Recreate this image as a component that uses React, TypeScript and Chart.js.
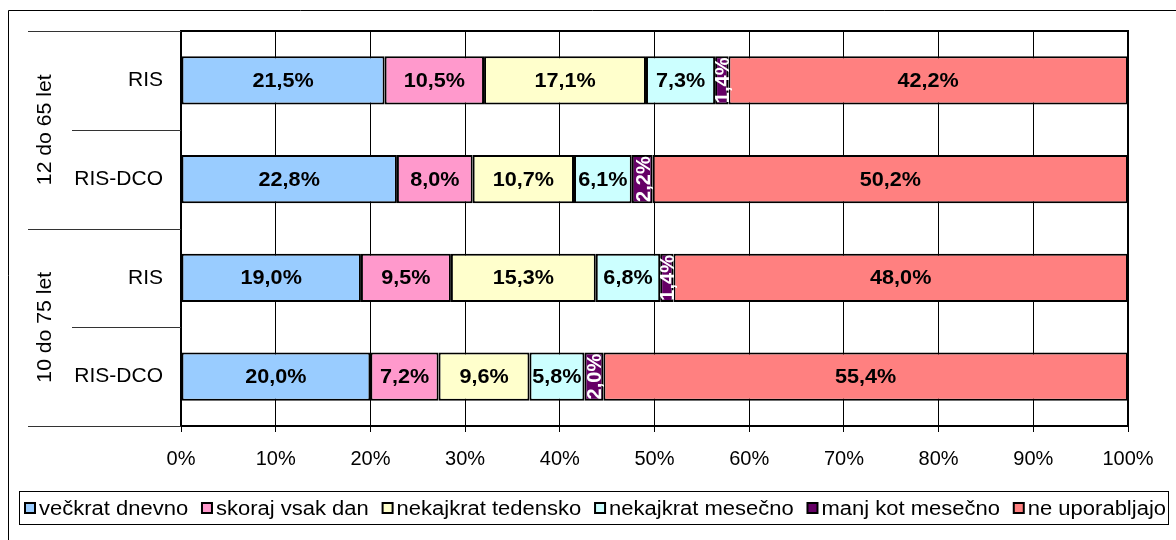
import { useEffect, useRef } from 'react';
import { Chart, registerables } from 'chart.js';

Chart.register(...registerables);

const categories = ['RIS', 'RIS-DCO', 'RIS', 'RIS-DCO'];
const groups = ['12 do 65 let', '10 do 75 let'];
const seriesNames = [
  'večkrat dnevno',
  'skoraj vsak dan',
  'nekajkrat tedensko',
  'nekajkrat mesečno',
  'manj kot mesečno',
  'ne uporabljajo',
];
const veckratDnevno = [21.5, 22.8, 19.0, 20.0];
const skorajVsakDan = [10.5, 8.0, 9.5, 7.2];
const nekajkratTedensko = [17.1, 10.7, 15.3, 9.6];
const nekajkratMesecno = [7.3, 6.1, 6.8, 5.8];
const manjKotMesecno = [1.4, 2.2, 1.4, 2.0];
const neUporabljajo = [42.2, 50.2, 48.0, 55.4];
const xTickValues = [0, 10, 20, 30, 40, 50, 60, 70, 80, 90, 100];

const seriesValues = [
  veckratDnevno,
  skorajVsakDan,
  nekajkratTedensko,
  nekajkratMesecno,
  manjKotMesecno,
  neUporabljajo,
];
const colors = ['#99CCFF', '#FF99CC', '#FFFFCC', '#CCFFFF', '#660066', '#FF8080'];
const labelColors = ['#000', '#000', '#000', '#000', '#fff', '#000'];
const rotatedLabel = [false, false, false, false, true, false];

const FONT = "'Liberation Sans', Arial, sans-serif";
const fmt = (v: number) => v.toFixed(1).replace('.', ',') + '%';

function fillStretched(ctx: any, text: string, x: number, y: number, sx: number, rot = 0) {
  ctx.save();
  ctx.translate(x, y);
  if (rot) ctx.rotate(rot);
  ctx.scale(sx, 1);
  ctx.fillText(text, 0, 0);
  ctx.restore();
}

const customPlugin = {
  id: 'custom',
  beforeDraw(chart: any) {
    const ctx = chart.ctx;
    ctx.save();
    ctx.fillStyle = '#fff';
    ctx.fillRect(0, 0, chart.width, chart.height);
    ctx.strokeStyle = '#000';
    ctx.lineWidth = 1;
    ctx.beginPath();
    ctx.moveTo(8.5, chart.height);
    ctx.lineTo(8.5, 10.5);
    ctx.lineTo(chart.width, 10.5);
    ctx.stroke();
    ctx.restore();
  },
  afterDraw(chart: any) {
    const ctx = chart.ctx;
    const area = chart.chartArea;
    const yScale = chart.scales.y;
    const n = categories.length;
    const step = (area.bottom - area.top) / n;
    ctx.save();

    // plot border
    ctx.strokeStyle = '#000';
    ctx.lineWidth = 2;
    ctx.strokeRect(area.left, area.top, area.right - area.left, area.bottom - area.top);

    // category separators
    ctx.lineWidth = 1;
    ctx.strokeStyle = '#333';
    for (let i = 0; i <= n; i++) {
      const yy = Math.round(yScale.getPixelForValue(0) - step / 2 + i * step) + 0.5;
      const startX = i % 2 === 0 ? 28 : 72;
      ctx.beginPath();
      ctx.moveTo(startX, yy);
      ctx.lineTo(area.left, yy);
      ctx.stroke();
    }

    // group labels
    ctx.fillStyle = '#000';
    ctx.font = `20px ${FONT}`;
    ctx.textAlign = 'center';
    ctx.textBaseline = 'middle';
    groups.forEach((g, gi) => {
      const yc = (yScale.getPixelForValue(gi * 2) + yScale.getPixelForValue(gi * 2 + 1)) / 2;
      fillStretched(ctx, g, 45, yc, 1.06, -Math.PI / 2);
    });

    // data labels
    ctx.font = `bold 20px ${FONT}`;
    chart.data.datasets.forEach((ds: any, di: number) => {
      const meta = chart.getDatasetMeta(di);
      meta.data.forEach((bar: any, i: number) => {
        const v = ds.data[i];
        const cx = (bar.x + bar.base) / 2;
        const cy = bar.y;
        ctx.fillStyle = labelColors[di];
        if (rotatedLabel[di]) {
          fillStretched(ctx, fmt(v), cx + 2, cy, 1.0, -Math.PI / 2);
        } else {
          fillStretched(ctx, fmt(v), cx, cy + 1, 1.08);
        }
      });
    });

    // legend
    const lx0 = 19;
    const lx1 = 1168;
    const ly0 = 491;
    const ly1 = 524;
    ctx.lineWidth = 1;
    ctx.strokeStyle = '#000';
    ctx.strokeRect(lx0 + 0.5, ly0 + 0.5, lx1 - lx0, ly1 - ly0);
    ctx.font = `20px ${FONT}`;
    const sx = 1.1;
    const box = 10;
    const boxGap = 4;
    const widths = seriesNames.map((s) => ctx.measureText(s).width * sx);
    const startX = 25;
    const endX = 1166;
    const used = widths.reduce((a, w) => a + box + boxGap + w, 0);
    const gap = (endX - startX - used) / (seriesNames.length - 1);
    let x = startX;
    const ym = (ly0 + ly1) / 2 + 0.5;
    ctx.textAlign = 'left';
    ctx.textBaseline = 'middle';
    seriesNames.forEach((s, i) => {
      ctx.fillStyle = colors[i];
      ctx.fillRect(x, ym - box / 2, box, box);
      ctx.lineWidth = 2;
      ctx.strokeStyle = '#000';
      ctx.strokeRect(x, ym - box / 2, box, box);
      ctx.fillStyle = '#000';
      fillStretched(ctx, s, x + box + boxGap, ym + 1, sx);
      x += box + boxGap + widths[i] + gap;
    });

    ctx.restore();
  },
};

export default function App() {
  const ref = useRef<HTMLCanvasElement | null>(null);
  useEffect(() => {
    if (!ref.current) return;
    const chart = new Chart(ref.current, {
      type: 'bar',
      data: {
        labels: categories,
        datasets: seriesNames.map((name, i) => ({
          label: name,
          data: seriesValues[i],
          backgroundColor: colors[i],
          borderColor: '#000',
          borderWidth: 2,
          borderSkipped: false,
          categoryPercentage: 1,
          barPercentage: 0.49,
        })),
      },
      options: {
        indexAxis: 'y',
        animation: false,
        responsive: false,
        devicePixelRatio: 1,
        layout: { padding: { left: 0, top: 31, right: 48, bottom: 64 } },
        plugins: {
          legend: { display: false },
          tooltip: { enabled: false },
        },
        scales: {
          x: {
            stacked: true,
            min: 0,
            max: 100,
            afterBuildTicks: (scale: any) => {
              scale.ticks = xTickValues.map((v) => ({ value: v }));
            },
            afterFit: (scale: any) => {
              scale.height = 50;
            },
            ticks: {
              color: '#000',
              font: { family: FONT, size: 20 },
              padding: 15,
              callback: (v: any) => v + '%',
              maxRotation: 0,
            },
            grid: {
              color: '#000',
              lineWidth: 1,
              drawTicks: true,
              tickLength: 6,
            },
            border: { display: false },
          },
          y: {
            stacked: true,
            afterFit: (scale: any) => {
              scale.width = 181;
            },
            ticks: {
              color: '#000',
              font: { family: FONT, size: 21 },
              padding: 10,
            },
            grid: { display: false },
            border: { display: false },
          },
        },
      },
      plugins: [customPlugin],
    });
    return () => chart.destroy();
  }, []);
  return (
    <div style={{ position: 'absolute', left: 0, top: 0, width: 1176, height: 540 }}>
      <canvas ref={ref} width={1176} height={540} style={{ display: 'block' }} />
    </div>
  );
}
